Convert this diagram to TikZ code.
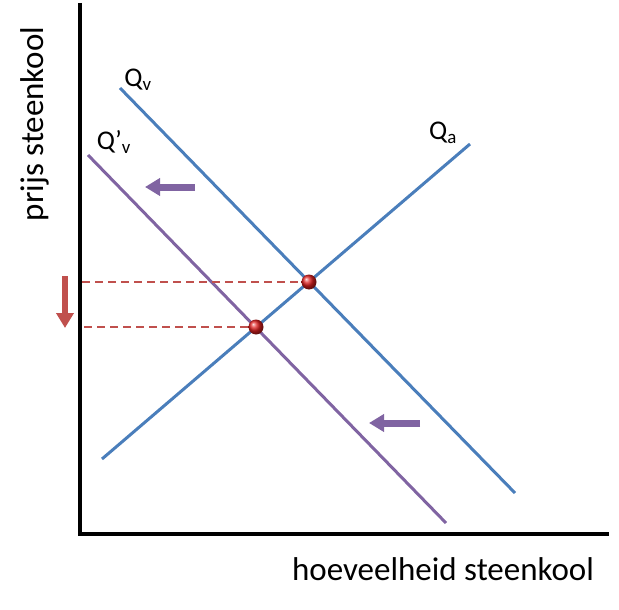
\documentclass[tikz,border=0pt]{standalone}
\usepackage{fontspec}
\setmainfont{Carlito}
\usetikzlibrary{arrows.meta}
\definecolor{qblue}{HTML}{4A7EBB}
\definecolor{qpurple}{HTML}{8064A2}
\definecolor{qred}{HTML}{C0504D}
\definecolor{qball}{HTML}{E02020}
\tikzstyle{ax} = [line width=4.5pt, black]
\tikzstyle{blauw} = [line width=3pt, qblue]
\tikzstyle{paars} = [line width=3pt, qpurple]
\tikzstyle{hulp} = [line width=1.5pt, qred, dash pattern=on 8pt off 5pt]
\tikzstyle{schuif} = [line width=7pt, -{Triangle[width=17pt,length=15pt]}]
\tikzstyle{stip} = [circle, inner sep=0pt, minimum size=15pt, shading=ball, ball color=qball]
\tikzstyle{lbl} = [font=\fontsize{27}{30}\selectfont, inner sep=0pt]
\tikzstyle{astxt} = [font=\fontsize{33}{38}\selectfont, inner sep=0pt, anchor=base]

\begin{document}
\begin{tikzpicture}[x=1pt,y=-1pt]
  \useasboundingbox (0,0) rectangle (619,610);

  % assen
  \coordinate (top) at (80,3);
  \coordinate (end) at (609,534);
  \draw[ax] (top) |- (end);
  \node[astxt] (xlab) at (443,580) {hoeveelheid steenkool};
  \node[astxt, rotate=90] (ylab) at (43,124) {prijs steenkool};

  % lijnen
  \coordinate (qv1) at (120,88);
  \coordinate (qv2) at (515,493);
  \coordinate (qw1) at (88,155);
  \coordinate (qw2) at (446,523);
  \coordinate (qa1) at (102,459);
  \coordinate (qa2) at (470,144);
  \draw[blauw] (qv1) -- (qv2);
  \draw[blauw] (qa1) -- (qa2);
  \draw[paars] (qw1) -- (qw2);

  \node[lbl] (lqv) at (138,80) {Q\textsubscript{v}};
  \node[lbl] (lqw) at (114,142) {Q’\textsubscript{v}};
  \node[lbl] (lqa) at (443,133) {Q\textsubscript{a}};

  % evenwichten
  \coordinate (p1) at (82,282);
  \coordinate (p2) at (84,327);
  \draw[hulp] (p1) -- (309,282);
  \draw[hulp] (p2) -- (256,327);
  \node[stip] (e1) at (309,282) {};
  \node[stip] (e2) at (256,327) {};

  % verschuivingen
  \coordinate (s1) at (195,187);
  \coordinate (t1) at (145,187);
  \coordinate (s2) at (420,423);
  \coordinate (t2) at (369,423);
  \coordinate (s3) at (65,276);
  \coordinate (t3) at (65,328);
  \draw[schuif, qpurple] (s1) -- (t1);
  \draw[schuif, qpurple] (s2) -- (t2);
  \draw[schuif, qred, line width=6pt] (s3) -- (t3);
\end{tikzpicture}
\end{document}
